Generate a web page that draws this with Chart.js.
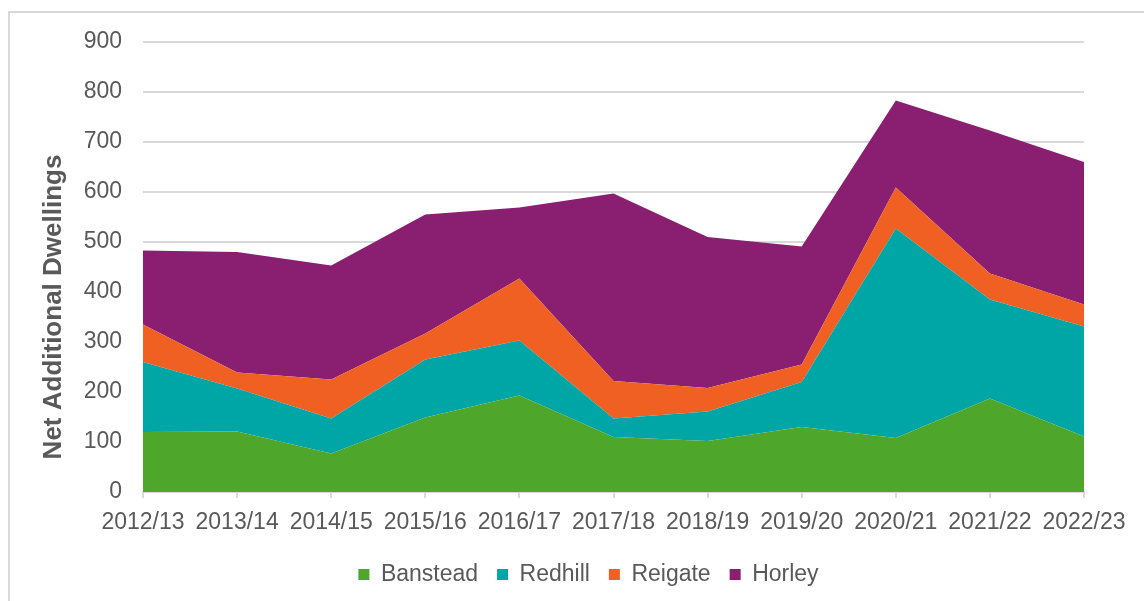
<!DOCTYPE html>
<html>
<head>
<meta charset="utf-8">
<script src="https://cdn.jsdelivr.net/npm/chart.js@4"></script>
<style>
    html, body { margin: 0; padding: 0; background: #ffffff; overflow: hidden; }
    #frame { position: absolute; left: 8px; top: 11px; width: 1200px; height: 700px;
             border-left: 2px solid #d9d9d9; border-top: 2px solid #d9d9d9; }
    #wrap { position: absolute; left: 0; top: 0; width: 1144px; height: 601px; }
</style>
</head>
<body>
<div id="frame"></div>
<div id="wrap"><canvas id="dwellings"></canvas></div>
<script>
const years = ['2012/13', '2013/14', '2014/15', '2015/16', '2016/17', '2017/18',
               '2018/19', '2019/20', '2020/21', '2021/22', '2022/23'];
const banstead = [120, 121, 77, 149, 193, 110, 102, 130, 108, 187, 111];
const redhill  = [140, 86, 70, 116, 110, 37, 59, 90, 419, 198, 220];
const reigate  = [75, 32, 78, 52, 124, 75, 47, 35, 82, 52, 44];
const horley   = [148, 241, 228, 238, 142, 375, 302, 236, 174, 286, 285];
const yTicks   = [0, 100, 200, 300, 400, 500, 600, 700, 800, 900];

const grey = '#595959';
Chart.defaults.font.family = "'Liberation Sans', Arial, sans-serif";
Chart.defaults.font.size = 23;
Chart.defaults.color = grey;

function area(label, data, colour, fill) {
    return {
        label: label,
        data: data,
        backgroundColor: colour,
        borderColor: colour,
        borderWidth: 0,
        pointRadius: 0,
        fill: fill,
        tension: 0
    };
}

// rotated axis title, sits lower than the axis centre in the original
const yTitle = {
    id: 'yTitle',
    afterDraw(chart) {
        const ctx = chart.ctx;
        ctx.save();
        ctx.translate(54, 307);
        ctx.rotate(-Math.PI / 2);
        ctx.font = "bold 26px 'Liberation Sans', Arial, sans-serif";
        ctx.fillStyle = grey;
        ctx.textAlign = 'center';
        ctx.textBaseline = 'middle';
        ctx.fillText('Net Additional Dwellings', 0, 0);
        ctx.restore();
    }
};

const config = {
    type: 'line',
    data: {
        labels: years,
        datasets: [
            area('Banstead', banstead, '#4ea72a', 'origin'),
            area('Redhill', redhill, '#00a6a6', '-1'),
            area('Reigate', reigate, '#f06023', '-1'),
            area('Horley', horley, '#8a1f71', '-1')
        ]
    },
    options: {
        responsive: false,
        animation: false,
        layout: {
            padding: { left: 33, right: 0, top: 42, bottom: 5 }
        },
        scales: {
            x: {
                offset: false,
                grid: { drawOnChartArea: false, drawTicks: true, tickLength: 6, color: '#d9d9d9', lineWidth: 2 },
                border: { display: true, color: '#d9d9d9', width: 2 },
                ticks: { autoSkip: false, maxRotation: 0, minRotation: 0, padding: 11 },
                afterFit(scale) { scale.height = 52; }
            },
            y: {
                stacked: true,
                min: 0,
                max: 900,
                afterBuildTicks(scale) { scale.ticks = yTicks.map(v => ({ value: v })); },
                grid: { drawTicks: false, color: '#d9d9d9', lineWidth: 2 },
                border: { display: false },
                ticks: { padding: 21 },
                afterFit(scale) { scale.width = 110; }
            },
            yRight: {
                position: 'right',
                display: true,
                grid: { display: false },
                border: { display: false },
                ticks: { display: false },
                afterFit(scale) { scale.width = 60; }
            }
        },
        plugins: {
            legend: {
                position: 'bottom',
                labels: { boxWidth: 11, boxHeight: 11, padding: 19, color: grey }
            },
            tooltip: { enabled: false }
        }
    },
    plugins: [yTitle]
};

const canvas = document.getElementById('dwellings');
canvas.width = 1144;
canvas.height = 601;
const areaChart = new Chart(canvas.getContext('2d'), config);
</script>
</body>
</html>
